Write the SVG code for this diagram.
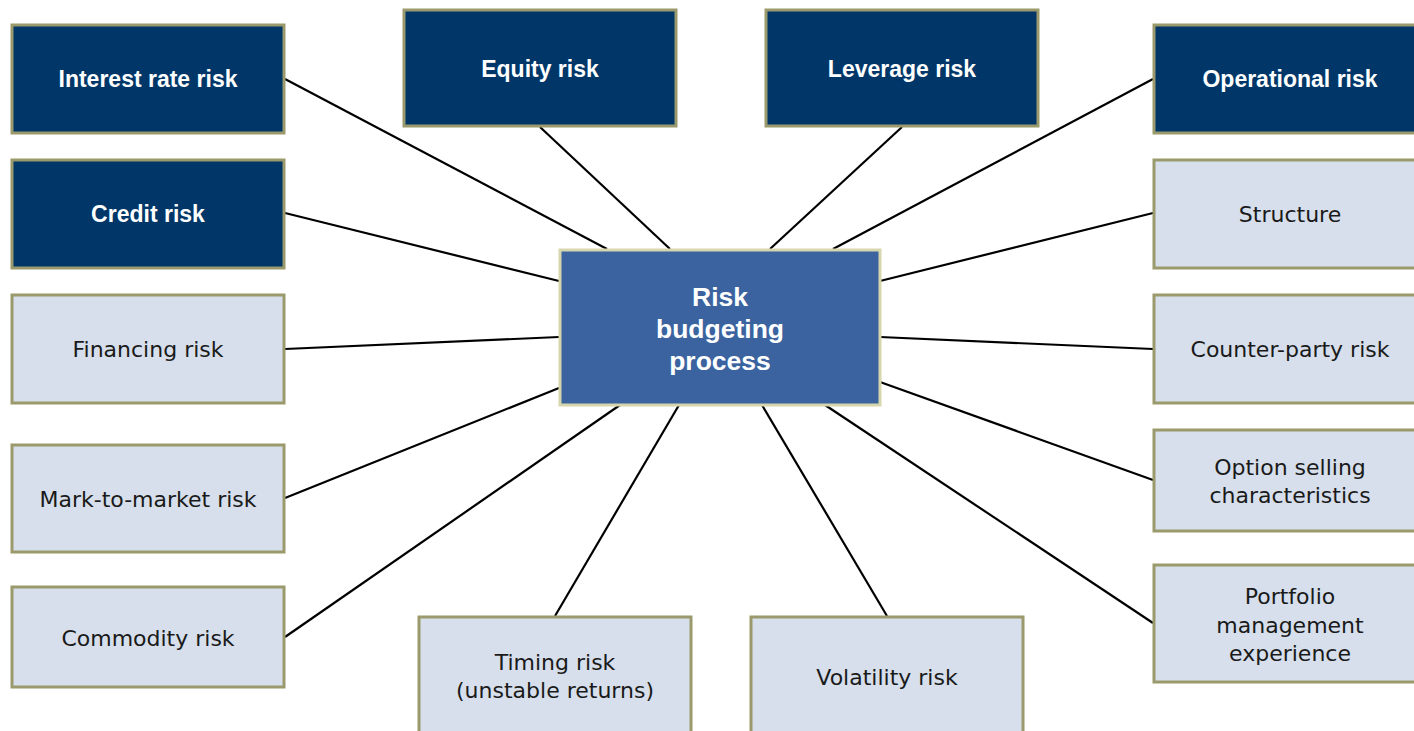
<svg xmlns="http://www.w3.org/2000/svg" width="1414" height="731" viewBox="0 0 1414 731">
  <style>
    .dark rect { fill: #003768; stroke: #9a9a6c; stroke-width: 3; }
    .light rect { fill: #d6dfeb; stroke: #9a9a6c; stroke-width: 3; }
    .hub rect { fill: #3a63a0; stroke: #d6d6ae; stroke-width: 3; }
    text { font-family: "DejaVu Sans", "Liberation Sans", sans-serif; font-size: 22px; text-anchor: middle; dominant-baseline: central; }
    .dark text { fill: #ffffff; font-family: "Liberation Sans", Arial, sans-serif; font-weight: bold; font-size: 23px; }
    .light text { fill: #1a1a1a; }
    .hub text { fill: #ffffff; font-family: "Liberation Sans", Arial, sans-serif; font-weight: bold; font-size: 26.5px; }
    #connectors line { stroke: #000000; stroke-width: 2.2; }
  </style>
  <rect width="1414" height="731" fill="#ffffff"/>

  <!-- spokes from the central process box -->
  <g id="connectors">
    <line x1="285" y1="79" x2="607" y2="249"/>
    <line x1="540" y1="127" x2="670" y2="249"/>
    <line x1="902" y1="127" x2="770" y2="249"/>
    <line x1="1153" y1="79" x2="833" y2="249"/>
    <line x1="285" y1="213" x2="559" y2="281"/>
    <line x1="1153" y1="213" x2="880" y2="281"/>
    <line x1="285" y1="349" x2="559" y2="337"/>
    <line x1="1153" y1="349" x2="880" y2="337"/>
    <line x1="285" y1="498" x2="559" y2="388"/>
    <line x1="1153" y1="480" x2="880" y2="382"/>
    <line x1="285" y1="637" x2="620" y2="405"/>
    <line x1="1153" y1="623" x2="825" y2="405"/>
    <line x1="555" y1="616" x2="679" y2="405"/>
    <line x1="887" y1="616" x2="762" y2="405"/>
  </g>

  <g id="hub" class="hub">
    <rect x="560" y="250" width="320" height="155"/>
    <text x="720" y="297">Risk</text>
    <text x="720" y="329">budgeting</text>
    <text x="720" y="361">process</text>
  </g>

  <g id="interest-rate-risk" class="dark">
    <rect x="12" y="25" width="272" height="108"/>
    <text x="148" y="79">Interest rate risk</text>
  </g>
  <g id="credit-risk" class="dark">
    <rect x="12" y="160" width="272" height="108"/>
    <text x="148" y="214">Credit risk</text>
  </g>
  <g id="equity-risk" class="dark">
    <rect x="404" y="10" width="272" height="116"/>
    <text x="540" y="69">Equity risk</text>
  </g>
  <g id="leverage-risk" class="dark">
    <rect x="766" y="10" width="272" height="116"/>
    <text x="902" y="69">Leverage risk</text>
  </g>
  <g id="operational-risk" class="dark">
    <rect x="1154" y="25" width="274" height="108"/>
    <text x="1290" y="79">Operational risk</text>
  </g>

  <g id="financing-risk" class="light">
    <rect x="12" y="295" width="272" height="108"/>
    <text x="148" y="349">Financing risk</text>
  </g>
  <g id="mark-to-market-risk" class="light">
    <rect x="12" y="445" width="272" height="107"/>
    <text x="148" y="499">Mark-to-market risk</text>
  </g>
  <g id="commodity-risk" class="light">
    <rect x="12" y="587" width="272" height="100"/>
    <text x="148" y="638">Commodity risk</text>
  </g>
  <g id="timing-risk" class="light">
    <rect x="419" y="617" width="272" height="120"/>
    <text x="555" y="662">Timing risk</text>
    <text x="555" y="690">(unstable returns)</text>
  </g>
  <g id="volatility-risk" class="light">
    <rect x="751" y="617" width="272" height="120"/>
    <text x="887" y="677">Volatility risk</text>
  </g>
  <g id="structure" class="light">
    <rect x="1154" y="160" width="274" height="108"/>
    <text x="1290" y="214">Structure</text>
  </g>
  <g id="counter-party-risk" class="light">
    <rect x="1154" y="295" width="274" height="108"/>
    <text x="1290" y="349">Counter-party risk</text>
  </g>
  <g id="option-selling" class="light">
    <rect x="1154" y="430" width="274" height="101"/>
    <text x="1290" y="467">Option selling</text>
    <text x="1290" y="495">characteristics</text>
  </g>
  <g id="portfolio-management" class="light">
    <rect x="1154" y="565" width="274" height="117"/>
    <text x="1290" y="596">Portfolio</text>
    <text x="1290" y="625">management</text>
    <text x="1290" y="653">experience</text>
  </g>
</svg>
